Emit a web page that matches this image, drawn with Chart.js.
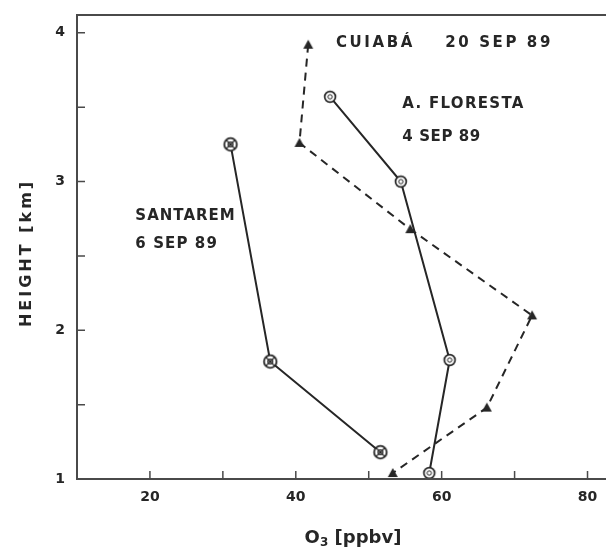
<!DOCTYPE html>
<html>
<head>
<meta charset="utf-8">
<script src="https://cdn.jsdelivr.net/npm/chart.js@4"></script>
<style>
  html, body { margin: 0; padding: 0; background: #fff; }
  #wrap { width: 606px; height: 549px; }
</style>
</head>
<body>
<div id="wrap"><canvas id="ozone-chart"></canvas></div>
<script>
// ozone profiles, O3 [ppbv] vs height [km]
const cuiabaO3 = [41.7, 40.5, 55.7, 72.4, 66.2, 53.3];
const cuiabaHeight = [3.92, 3.26, 2.68, 2.10, 1.48, 1.04];

const florestaO3 = [44.7, 54.4, 61.1, 58.3];
const florestaHeight = [3.57, 3.0, 1.80, 1.04];

const santaremO3 = [31.05, 36.5, 51.6];
const santaremHeight = [3.25, 1.79, 1.18];

const xTickValues = [10, 20, 30, 40, 50, 60, 70, 80];
const xTickLabels = ['', '20', '', '40', '', '60', '', '80'];
const yTickValues = [1, 1.5, 2, 2.5, 3, 3.5, 4];
const yTickLabels = ['1', '', '2', '', '3', '', '4'];

const ink = '#262626';
const axisInk = '#4a4a4a';

const toPoints = (xs, ys) => xs.map((x, i) => ({ x: x, y: ys[i] }));

// marker images
const makeMarker = (draw, size) => {
    const c = document.createElement('canvas');
    c.width = size; c.height = size;
    const g = c.getContext('2d');
    draw(g, size / 2);
    return c;
};

const crossCircle = makeMarker((g, m) => {
    g.fillStyle = '#fff';
    g.strokeStyle = ink;
    g.lineWidth = 1.8;
    g.beginPath(); g.arc(m, m, 6.3, 0, Math.PI * 2); g.fill(); g.stroke();
    g.lineWidth = 1.3;
    g.beginPath(); g.arc(m, m, 2.4, 0, Math.PI * 2); g.stroke();
    g.beginPath();
    g.moveTo(m - 4.4, m - 4.4); g.lineTo(m + 4.4, m + 4.4);
    g.moveTo(m + 4.4, m - 4.4); g.lineTo(m - 4.4, m + 4.4);
    g.stroke();
}, 18);

const openCircle = makeMarker((g, m) => {
    g.fillStyle = '#fff';
    g.strokeStyle = ink;
    g.lineWidth = 1.7;
    g.beginPath(); g.arc(m, m, 5.4, 0, Math.PI * 2); g.fill(); g.stroke();
    g.lineWidth = 1;
    g.beginPath(); g.arc(m, m, 2.2, 0, Math.PI * 2); g.stroke();
}, 16);

const triangle = makeMarker((g, m) => {
    g.fillStyle = ink;
    g.beginPath();
    g.moveTo(m, m - 5); g.lineTo(m + 5, m + 4); g.lineTo(m - 5, m + 4);
    g.closePath(); g.fill();
}, 14);

// station labels, anchored in data units
const stationLabels = [
    { text: 'CUIABÁ', x: 45.5, y: 3.93, spacing: 2.6 },
    { text: '20 SEP 89', x: 60.5, y: 3.93, spacing: 2.6 },
    { text: 'A. FLORESTA', x: 54.6, y: 3.52, spacing: 1.3 },
    { text: '4 SEP 89', x: 54.6, y: 3.30, spacing: 0.6 },
    { text: 'SANTAREM', x: 18.0, y: 2.77, spacing: 1.0 },
    { text: '6 SEP 89', x: 18.0, y: 2.58, spacing: 1.1 }
];

const framePlugin = {
    id: 'frame',
    afterDraw(chart) {
        const ctx = chart.ctx;
        const a = chart.chartArea;
        const xs = chart.scales.x, ys = chart.scales.y;
        ctx.save();
        ctx.strokeStyle = axisInk;
        ctx.lineWidth = 2;
        ctx.beginPath();
        ctx.moveTo(chart.width, a.top); ctx.lineTo(a.left, a.top);
        ctx.lineTo(a.left, a.bottom); ctx.lineTo(chart.width, a.bottom);
        ctx.stroke();
        // inward ticks
        ctx.lineWidth = 1.5;
        ctx.beginPath();
        xTickValues.forEach(v => {
            const px = xs.getPixelForValue(v);
            if (v === 10) return;
            ctx.moveTo(px, a.bottom); ctx.lineTo(px, a.bottom - 8);
        });
        yTickValues.forEach(v => {
            const py = ys.getPixelForValue(v);
            if (v === 1) return;
            ctx.moveTo(a.left, py); ctx.lineTo(a.left + 8, py);
        });
        ctx.stroke();

        ctx.fillStyle = ink;
        ctx.font = 'bold 15px "DejaVu Sans"';
        ctx.textBaseline = 'middle';
        ctx.textAlign = 'left';
        stationLabels.forEach(l => {
            ctx.letterSpacing = l.spacing + 'px';
            ctx.fillText(l.text, xs.getPixelForValue(l.x), ys.getPixelForValue(l.y));
        });

        // y title
        ctx.save();
        ctx.translate(27, (ys.getPixelForValue(3) + ys.getPixelForValue(2)) / 2 - 3);
        ctx.rotate(-Math.PI / 2);
        ctx.font = 'bold 16px "DejaVu Sans"';
        ctx.letterSpacing = '3px';
        ctx.textAlign = 'center';
        ctx.fillText('HEIGHT [km]', 0, 0);
        ctx.restore();

        // x title with subscript
        ctx.letterSpacing = '0px';
        ctx.textAlign = 'left';
        const ty = 538;
        ctx.font = 'bold 18px "DejaVu Sans"';
        const wO = ctx.measureText('O').width;
        const wRest = ctx.measureText(' [ppbv]').width;
        ctx.font = 'bold 12px "DejaVu Sans"';
        const w3 = ctx.measureText('3').width;
        let tx = 353 - (wO + w3 + wRest) / 2;
        ctx.font = 'bold 18px "DejaVu Sans"';
        ctx.fillText('O', tx, ty);
        ctx.font = 'bold 12px "DejaVu Sans"';
        ctx.fillText('3', tx + wO, ty + 5);
        ctx.font = 'bold 18px "DejaVu Sans"';
        ctx.fillText(' [ppbv]', tx + wO + w3, ty);
        ctx.restore();
    }
};

const ctx = document.getElementById('ozone-chart').getContext('2d');
const myChart = new Chart(ctx, {
    type: 'scatter',
    data: {
        datasets: [
            {
                label: 'CUIABÁ 20 SEP 89',
                data: toPoints(cuiabaO3, cuiabaHeight),
                showLine: true,
                borderColor: ink,
                borderWidth: 2,
                borderDash: [8, 6],
                pointStyle: triangle,
                pointRadius: 5
            },
            {
                label: 'A. FLORESTA 4 SEP 89',
                data: toPoints(florestaO3, florestaHeight),
                showLine: true,
                borderColor: ink,
                borderWidth: 2,
                pointStyle: openCircle,
                pointRadius: 6
            },
            {
                label: 'SANTAREM 6 SEP 89',
                data: toPoints(santaremO3, santaremHeight),
                showLine: true,
                borderColor: ink,
                borderWidth: 2,
                pointStyle: crossCircle,
                pointRadius: 7
            }
        ]
    },
    options: {
        responsive: true,
        maintainAspectRatio: false,
        animation: false,
        layout: { padding: { top: 15, right: 0, left: 0, bottom: 0 } },
        plugins: { legend: { display: false }, tooltip: { enabled: false } },
        scales: {
            x: {
                type: 'linear',
                min: 10,
                max: 81.3,
                border: { display: false },
                grid: { display: false, drawTicks: false },
                afterBuildTicks: s => { s.ticks = xTickValues.map(v => ({ value: v })); },
                afterFit: s => { s.height = 70; s.paddingLeft = 0; s.paddingRight = 0; },
                ticks: {
                    autoSkip: false,
                    maxRotation: 0,
                    padding: 10,
                    color: ink,
                    font: { family: 'DejaVu Sans', size: 14, weight: 'bold' },
                    callback: (v, i) => xTickLabels[i]
                },
                title: { display: false }
            },
            y: {
                type: 'linear',
                min: 1,
                max: 4.12,
                border: { display: false },
                grid: { display: false, drawTicks: false },
                afterBuildTicks: s => { s.ticks = yTickValues.map(v => ({ value: v })); },
                afterFit: s => { s.width = 77; s.paddingTop = 0; s.paddingBottom = 0; },
                ticks: {
                    autoSkip: false,
                    padding: 12,
                    color: ink,
                    font: { family: 'DejaVu Sans', size: 14, weight: 'bold' },
                    callback: (v, i) => yTickLabels[i]
                },
                title: { display: false }
            }
        }
    },
    plugins: [framePlugin]
});
</script>
</body>
</html>
